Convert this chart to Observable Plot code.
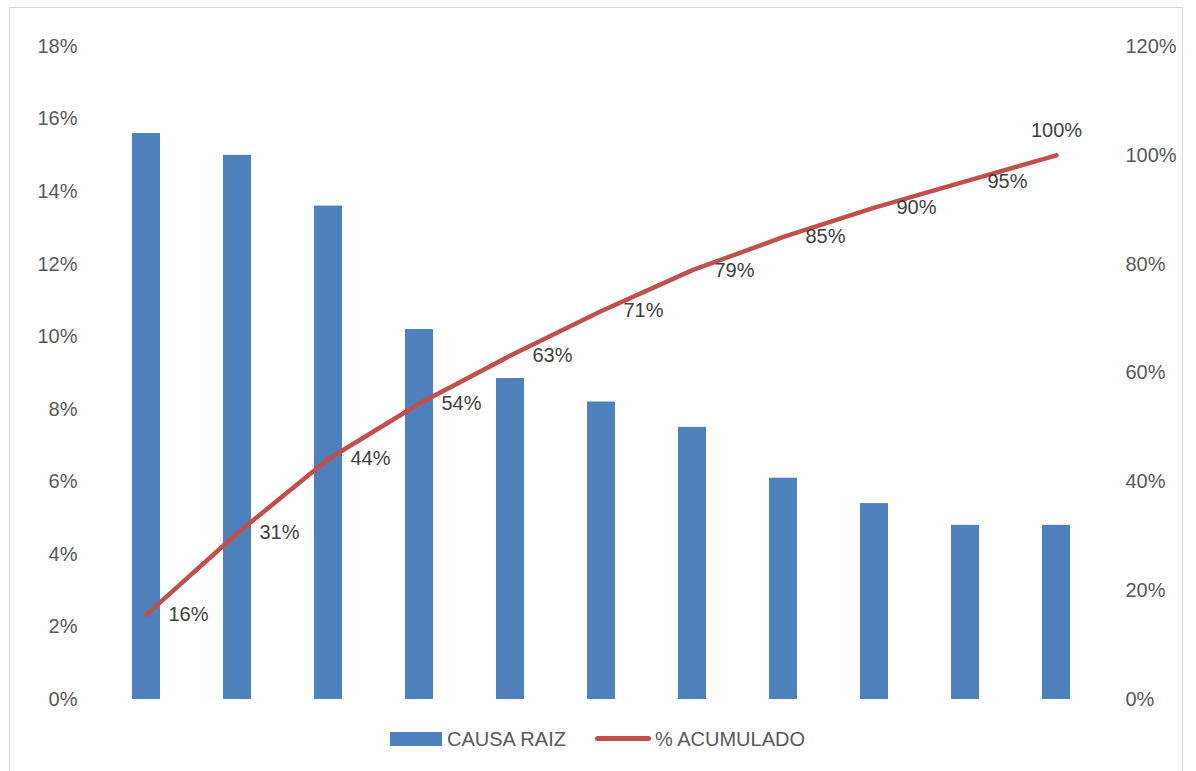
<!DOCTYPE html>
<html><head><meta charset="utf-8">
<script src="https://cdn.jsdelivr.net/npm/d3@7"></script>
<script src="https://cdn.jsdelivr.net/npm/@observablehq/plot@0.6"></script>
<style>
body{margin:0;background:#fff;font-family:"Liberation Sans",Arial,sans-serif;width:1196px;height:771px;overflow:hidden;position:relative;}
#frame{position:absolute;left:9px;top:7px;width:1174px;height:800px;border:1px solid #d9d9d9;box-sizing:border-box;}
#chart{position:absolute;left:0;top:0;}
.lg{position:absolute;font-size:20px;color:#595959;line-height:22px;top:728px;white-space:nowrap;}
.sw{position:absolute;}
</style>
</head><body>
<div id="frame"></div>
<div id="chart"></div>
<div class="sw" style="left:390px;top:732px;width:52px;height:14px;background:#4f81bd;"></div>
<div class="lg" style="left:447px;">CAUSA RAIZ</div>
<div class="sw" style="left:595px;top:736px;width:56px;height:5px;background:#c0504d;border-radius:3px;"></div>
<div class="lg" style="left:655px;">% ACUMULADO</div>
<script>
const causas = ["Causa 1","Causa 2","Causa 3","Causa 4","Causa 5","Causa 6","Causa 7","Causa 8","Causa 9","Causa 10","Causa 11"];
const porcentaje = [0.156, 0.150, 0.136, 0.102, 0.0885, 0.082, 0.075, 0.061, 0.054, 0.048, 0.048];
const acumulado = [0.156, 0.306, 0.442, 0.544, 0.632, 0.714, 0.789, 0.850, 0.904, 0.952, 1.000];
const leftTicks = [0, 0.02, 0.04, 0.06, 0.08, 0.10, 0.12, 0.14, 0.16, 0.18];
const rightTicks = [0, 0.2, 0.4, 0.6, 0.8, 1.0, 1.2];
const rightMax = 1.2, leftMax = 0.18;
const k = leftMax / rightMax; // maps the right axis onto the left scale

const data = causas.map((c, i) => ({causa: c, pct: porcentaje[i], cum: acumulado[i], last: i === causas.length - 1}));
const fmt = d3.format(".0%");

const plot = Plot.plot({
  width: 1196,
  height: 720,
  marginLeft: 100,
  marginRight: 94,
  marginTop: 46,
  marginBottom: 21,
  style: {fontSize: "20px", fontFamily: "'Liberation Sans', Arial, sans-serif", color: "#595959", background: "transparent"},
  x: {domain: causas, axis: null, paddingInner: 0.69, paddingOuter: 0.345},
  y: {domain: [0, leftMax]},
  marks: [
    Plot.axisY(leftTicks, {anchor: "left", tickSize: 0, tickPadding: 23, tickFormat: fmt, label: null}),
    Plot.axisY(rightTicks.map(v => v * k), {anchor: "right", tickSize: 0, tickPadding: 23, tickFormat: d => Math.round(d / k * 100) + "%", label: null}),
    Plot.barY(data, {x: "causa", y: "pct", fill: "#4f81bd"}),
    Plot.line(data, {x: "causa", y: d => d.cum * k, stroke: "#c0504d", strokeWidth: 4.5, strokeLinecap: "round", strokeLinejoin: "round"}),
    Plot.text(data.filter(d => !d.last), {x: "causa", y: d => d.cum * k, text: d => fmt(d.cum), textAnchor: "start", dx: 22, fill: "#404040", fontSize: 20}),
    Plot.text(data.filter(d => d.last), {x: "causa", y: d => d.cum * k, text: d => fmt(d.cum), textAnchor: "middle", dy: -25, fill: "#404040", fontSize: 20})
  ]
});
document.getElementById("chart").appendChild(plot);
</script>
</body></html>
